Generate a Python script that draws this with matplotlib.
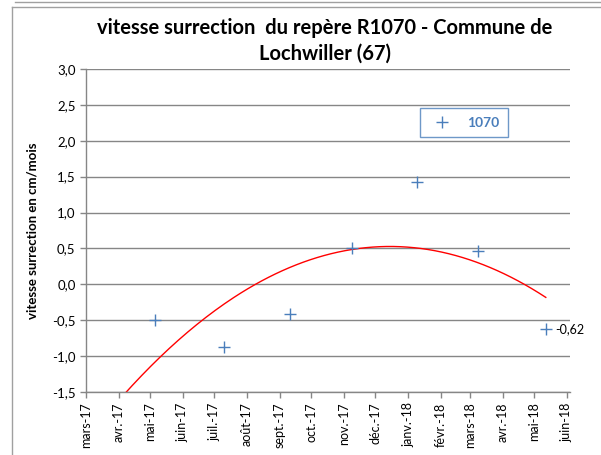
import matplotlib.pyplot as plt
from matplotlib.lines import Line2D
from matplotlib.ticker import FuncFormatter
import numpy as np
import pandas as pd

# releves R1070 (dates)
dates = ["2017-05-06", "2017-07-10", "2017-09-11", "2017-11-09",
         "2018-01-10", "2018-03-09", "2018-05-12"]
vitesse = [-0.50, -0.88, -0.41, 0.51, 1.43, 0.46, -0.62]
mois = ["mars-17", "avr.-17", "mai-17", "juin-17", "juil.-17", "août-17",
        "sept.-17", "oct.-17", "nov.-17", "déc.-17", "janv.-18", "févr.-18",
        "mars-18", "avr.-18", "mai-18", "juin-18"]

plt.rcParams['font.family'] = ['Lato', 'DejaVu Sans']

d = pd.to_datetime(dates)
t0 = pd.Timestamp("2017-03-01")
jours = np.array([(x - t0).days for x in d], dtype=float)

# courbe de tendance polynomiale ordre 2
coef = np.polyfit(jours, vitesse, 2)
tt = np.linspace(0, jours[-1], 200)
yy = np.polyval(coef, tt)
tt_dates = [t0 + pd.Timedelta(days=float(v)) for v in tt]

fig = plt.figure(figsize=(6.01, 4.55), dpi=100)
ax = fig.add_axes([0.1431, 0.1385, 0.8053, 0.7099])

gris = '#868686'
bleu = '#4a7ebb'
ax.plot(tt_dates, yy, color='red', lw=1, zorder=2)
ax.plot(d, vitesse, ls='none', marker='+', ms=8, mew=1, color=bleu, zorder=3)
ax.text(d[-1] + pd.Timedelta(days=9), vitesse[-1], "-0,62",
        fontsize=9, va='center', ha='left', color='black')

ax.set_ylim(-1.5, 3.0)
ax.set_yticks(np.arange(-1.5, 3.01, 0.5))
ax.yaxis.set_major_formatter(FuncFormatter(lambda v, p: f"{v:.1f}".replace(".", ",")))
ax.grid(axis='y', color=gris, lw=1)
ax.set_axisbelow(True)

ticks = pd.date_range("2017-03-01", "2018-06-01", freq="MS")
ax.set_xticks(ticks)
ax.set_xticklabels(mois, rotation=90, fontsize=9)
ax.set_xlim(pd.Timestamp("2017-03-01"), pd.Timestamp("2018-06-04"))

for s in ['top', 'right']:
    ax.spines[s].set_visible(False)
for s in ['left', 'bottom']:
    ax.spines[s].set_color(gris)
    ax.spines[s].set_linewidth(1)
ax.tick_params(axis='both', color=gris, length=4, width=1, direction='out')
ax.tick_params(axis='y', labelsize=9.5, labelcolor='black')

ax.set_ylabel("vitesse surrection en cm/mois", fontsize=9.5, fontweight='bold', labelpad=10)

fig.text(0.54, 0.91, "vitesse surrection  du repère R1070 - Commune de\nLochwiller (67)",
         ha='center', va='center', fontsize=14.5, fontweight='bold', linespacing=1.35)

# legende
h = Line2D([], [], ls='none', marker='+', ms=8, mew=1, color=bleu)
leg = ax.legend([h], ["1070"], loc='center', bbox_to_anchor=(0.781, 0.834),
                frameon=True, fancybox=False, borderpad=0.6, handletextpad=0.8,
                prop={'weight': 'bold', 'size': 10})
leg.get_frame().set_edgecolor(bleu)
leg.get_frame().set_linewidth(1)
for txt in leg.get_texts():
    txt.set_color(bleu)

# cadre
fig.add_artist(Line2D([0.025, 1], [0.995, 0.995], color='#a0a0a0', lw=1))
fig.add_artist(Line2D([0.02, 1], [0.985, 0.985], color='#a0a0a0', lw=1))
fig.add_artist(Line2D([0.02, 0.02], [0, 0.985], color='#a0a0a0', lw=1))

fig.savefig("out.png", dpi=100)
